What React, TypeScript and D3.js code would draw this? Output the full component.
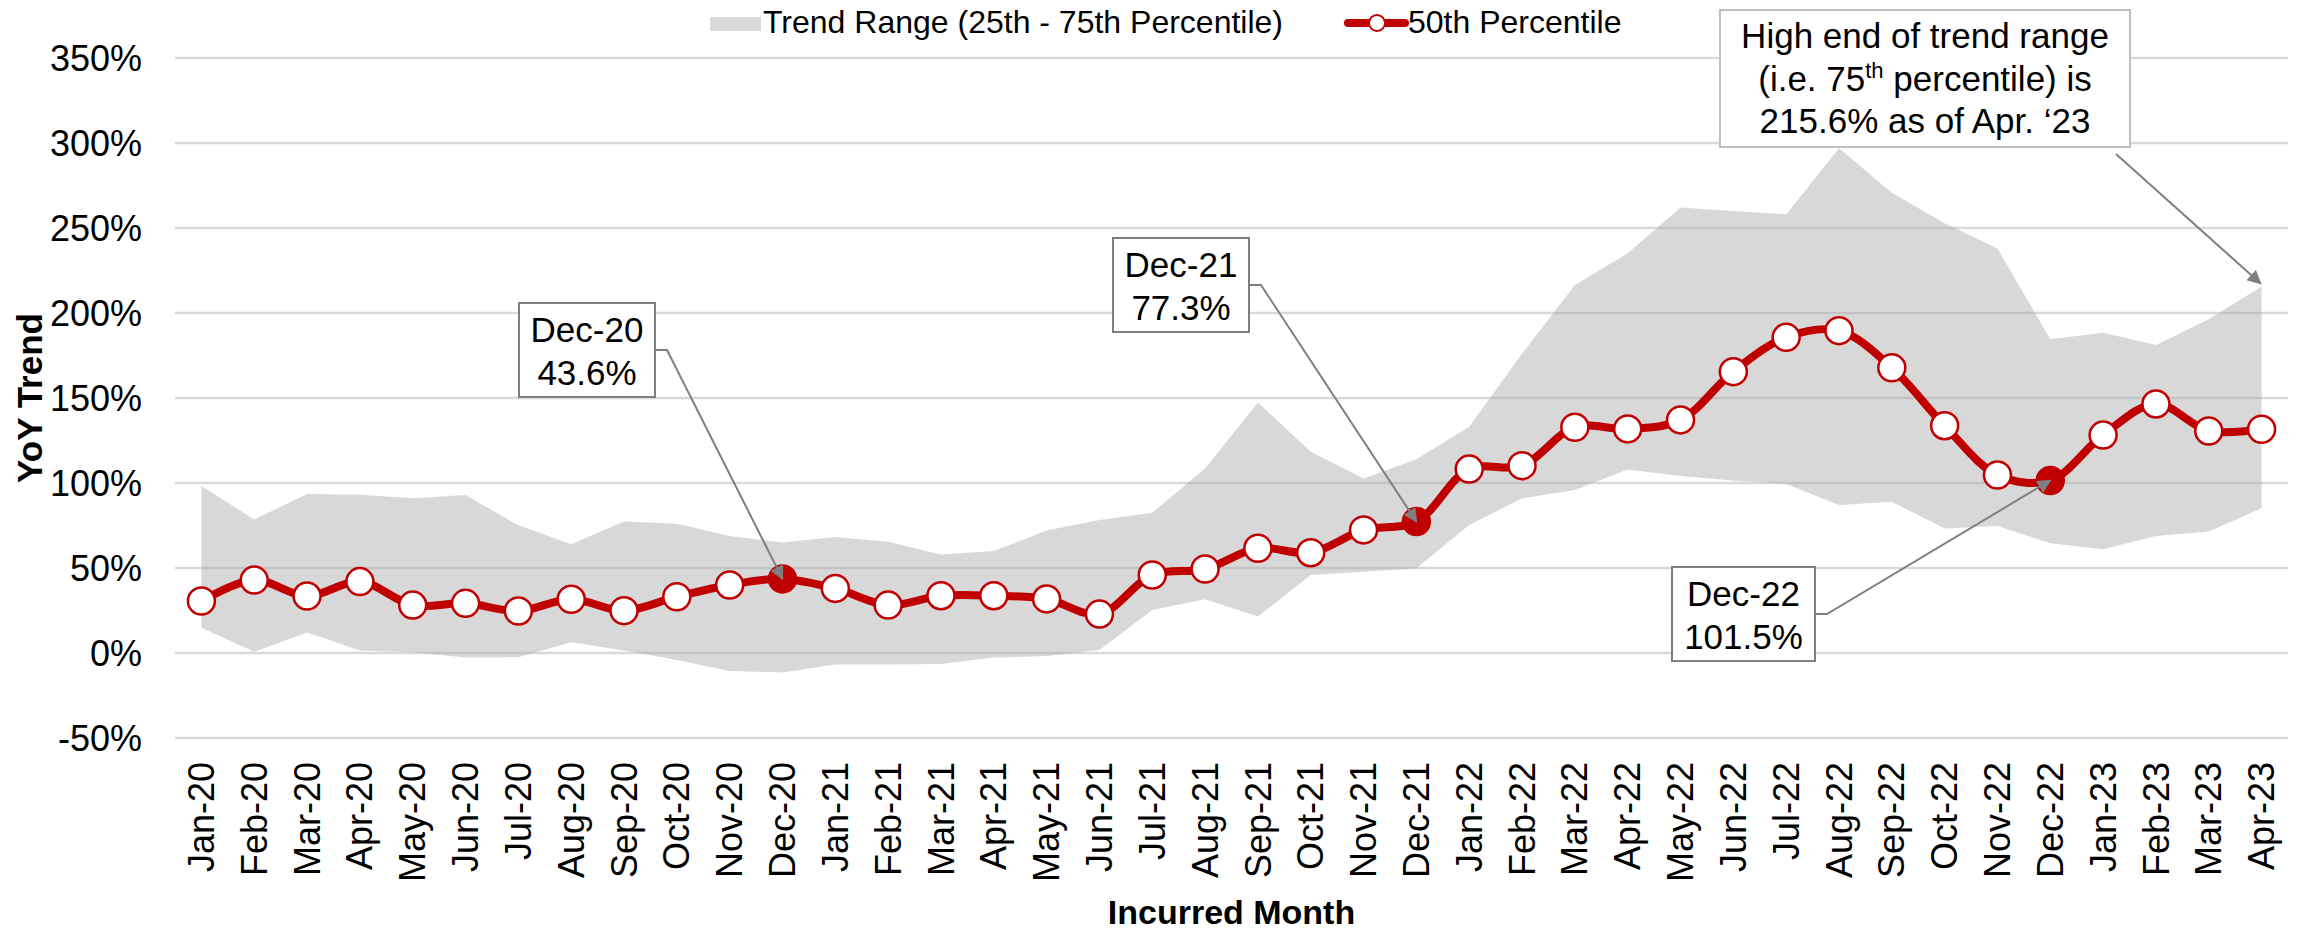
import React from "react";
import * as d3 from "d3";

const months = [
  "Jan-20","Feb-20","Mar-20","Apr-20","May-20","Jun-20","Jul-20","Aug-20","Sep-20","Oct-20","Nov-20","Dec-20",
  "Jan-21","Feb-21","Mar-21","Apr-21","May-21","Jun-21","Jul-21","Aug-21","Sep-21","Oct-21","Nov-21","Dec-21",
  "Jan-22","Feb-22","Mar-22","Apr-22","May-22","Jun-22","Jul-22","Aug-22","Sep-22","Oct-22","Nov-22","Dec-22",
  "Jan-23","Feb-23","Mar-23","Apr-23",
];

const p50 = [
  30.6, 42.9, 33.5, 42.0, 28.2, 29.2, 24.7, 31.6, 24.9, 33.1, 40.0, 43.6,
  38.0, 28.2, 33.7, 33.7, 31.8, 22.9, 45.9, 49.4, 61.6, 59.0, 72.4, 77.3,
  108.2, 110.2, 132.8, 131.8, 137.1, 165.5, 185.7, 189.6, 167.8, 133.7, 104.7, 101.5,
  128.2, 146.5, 130.6, 131.6,
];

const p75 = [
  98.2, 78.6, 93.5, 93.1, 91.0, 92.9, 75.1, 63.9, 77.3, 76.1, 68.8, 65.0,
  68.2, 65.5, 58.0, 60.0, 72.0, 78.2, 82.5, 108.6, 147.4, 118.4, 102.7, 113.9,
  133.1, 176.0, 216.5, 235.1, 262.0, 260.0, 258.0, 296.9, 270.8, 252.8, 238.0, 184.5,
  188.4, 181.2, 196.3, 215.6,
];

const p25 = [
  14.9, 0.8, 12.0, 1.4, 0.4, -2.7, -2.5, 6.3, 1.4, -4.1, -10.6, -11.4,
  -6.7, -6.7, -6.5, -2.7, -1.8, 1.8, 25.3, 31.6, 21.4, 45.9, 47.8, 49.8,
  75.3, 91.0, 95.9, 108.0, 104.1, 101.4, 99.4, 87.1, 89.0, 73.3, 74.7, 64.5,
  61.0, 68.8, 71.4, 85.1,
];

const yTicks = [-50, 0, 50, 100, 150, 200, 250, 300, 350];
const highlighted = ["Dec-20", "Dec-21", "Dec-22"];

const callouts = [
  { month: "Dec-20", lines: ["Dec-20", "43.6%"], box: { x: 519, y: 303, w: 136, h: 94 } },
  { month: "Dec-21", lines: ["Dec-21", "77.3%"], box: { x: 1113, y: 238, w: 136, h: 94 } },
  { month: "Dec-22", lines: ["Dec-22", "101.5%"], box: { x: 1672, y: 567, w: 143, h: 94 } },
];

const FONT = "'Liberation Sans', Arial, Helvetica, sans-serif";
const RED = "#c00000";
const ARROW = "#7f7f7f";

export default function App() {
  const W = 2300, H = 932;
  const x = d3.scaleBand<string>().domain(months).range([175, 2288]);
  const y = d3.scaleLinear().domain([-50, 350]).range([738, 58]);
  const cx = (m: string) => (x(m) as number) + x.bandwidth() / 2;

  const idx = months.map((_, i) => i);
  const area = d3
    .area<number>()
    .x((i) => cx(months[i]))
    .y0((i) => y(p25[i]))
    .y1((i) => y(p75[i]));
  const line = d3
    .line<number>()
    .x((i) => cx(months[i]))
    .y((i) => y(p50[i]))
    .curve(d3.curveCatmullRom.alpha(0.5));

  const lastM = months[months.length - 1];
  const lastHigh = p75[p75.length - 1];

  return (
    <svg
      width={W}
      height={H}
      viewBox={`0 0 ${W} ${H}`}
      style={{ position: "absolute", left: 0, top: 0, background: "#fff" }}
      fontFamily={FONT}
    >
      <defs>
        <marker id="arr" viewBox="0 0 10 10" refX="9" refY="5" markerWidth="8" markerHeight="7" orient="auto" markerUnits="strokeWidth">
          <path d="M0,0 L10,5 L0,10 z" fill={ARROW} />
        </marker>
      </defs>
      <rect x={0} y={0} width={W} height={H} fill="#fff" />

      {/* gridlines */}
      {yTicks.map((t) => (
        <line key={"g" + t} x1={175} x2={2288} y1={y(t)} y2={y(t)} stroke="#d9d9d9" strokeWidth={2.5} />
      ))}

      {/* band */}
      <path d={area(idx) || ""} fill="#a9a9a9" fillOpacity={0.45} />

      {/* y tick labels */}
      {yTicks.map((t) => (
        <text key={"yl" + t} x={142} y={y(t)} dy="0.36em" textAnchor="end" fontSize={36} fill="#000">
          {t}%
        </text>
      ))}

      {/* x tick labels */}
      {months.map((m) => (
        <text
          key={"xl" + m}
          transform={`translate(${cx(m)},762) rotate(-90)`}
          textAnchor="end"
          dy="0.35em"
          fontSize={36}
          fill="#000"
        >
          {m}
        </text>
      ))}

      {/* axis titles */}
      <text transform="translate(42,398) rotate(-90)" textAnchor="middle" fontSize={35} fontWeight="bold" fill="#000">
        YoY Trend
      </text>
      <text x={(175 + 2288) / 2} y={924} textAnchor="middle" fontSize={34} fontWeight="bold" fill="#000">
        Incurred Month
      </text>

      {/* median line */}
      <path d={line(idx) || ""} fill="none" stroke={RED} strokeWidth={8} strokeLinejoin="round" />
      {months.map((m, i) => {
        const hl = highlighted.includes(m);
        return (
          <circle
            key={"pt" + m}
            cx={cx(m)}
            cy={y(p50[i])}
            r={13.5}
            fill={hl ? RED : "#fff"}
            stroke={RED}
            strokeWidth={2.5}
          />
        );
      })}

      {/* callouts */}
      {callouts.map((c) => {
        const i = months.indexOf(c.month);
        const tx = cx(c.month);
        const ty = y(p50[i]);
        const bx = c.box.x + c.box.w;
        const by = c.box.y + c.box.h / 2;
        return (
          <g key={"c" + c.month}>
            <path
              d={`M${bx},${by} L${bx + 12},${by} L${tx},${ty}`}
              fill="none"
              stroke={ARROW}
              strokeWidth={2}
              markerEnd="url(#arr)"
            />
            <rect x={c.box.x} y={c.box.y} width={c.box.w} height={c.box.h} fill="#fff" stroke={ARROW} strokeWidth={2} />
            {c.lines.map((l, k) => (
              <text
                key={k}
                x={c.box.x + c.box.w / 2}
                y={c.box.y + 39 + k * 43}
                textAnchor="middle"
                fontSize={35}
                fill="#000"
              >
                {l}
              </text>
            ))}
          </g>
        );
      })}

      {/* high-end callout */}
      <g>
        <path
          d={`M2116,154 L${cx(lastM) - 1},${y(lastHigh) - 3}`}
          fill="none"
          stroke={ARROW}
          strokeWidth={2}
          markerEnd="url(#arr)"
        />
        <rect x={1720} y={10} width={410} height={137} fill="#fff" stroke="#bfbfbf" strokeWidth={2} />
        <text x={1925} y={48} textAnchor="middle" fontSize={35} fill="#000">
          High end of trend range
        </text>
        <text x={1925} y={91} textAnchor="middle" fontSize={35} fill="#000">
          (i.e. 75
          <tspan fontSize={22} dy={-13}>th</tspan>
          <tspan dy={13}> percentile) is</tspan>
        </text>
        <text x={1925} y={133} textAnchor="middle" fontSize={35} fill="#000">
          215.6% as of Apr. ‘23
        </text>
      </g>

      {/* legend */}
      <rect x={710} y={17} width={51} height={14} fill="#d9d9d9" />
      <text x={763} y={33} fontSize={32} fill="#000">
        Trend Range (25th - 75th Percentile)
      </text>
      <line x1={1348} x2={1405} y1={23} y2={23} stroke={RED} strokeWidth={8} strokeLinecap="round" />
      <circle cx={1377} cy={23} r={8} fill="#fff" stroke={RED} strokeWidth={2} />
      <text x={1408} y={33} fontSize={32} fill="#000">
        50th Percentile
      </text>
    </svg>
  );
}
